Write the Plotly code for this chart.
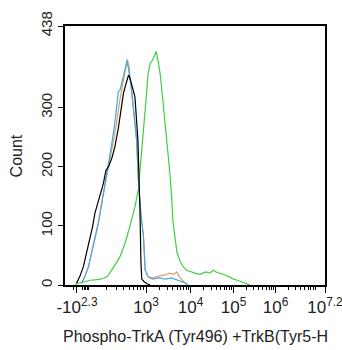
import math
import plotly.graph_objects as go

# x values are in display (biexponential) decade units; y are event counts
black_x = [1.37, 1.45, 1.53, 1.61, 1.69, 1.75, 1.80, 1.88, 1.92, 2.00, 2.06, 2.12, 2.20, 2.27, 2.35,
           2.42, 2.47, 2.53, 2.59, 2.63, 2.70, 2.74, 2.81, 2.84, 2.86, 2.88, 2.90, 2.95, 3.02, 3.10]
black_y = [3, 15, 31, 55, 82, 100, 121, 140, 149, 172, 194, 200, 215, 234, 265,
           300, 324, 340, 355, 348, 330, 318, 245, 189, 120, 40, 10, 6, 2, 0]

blue_x = [1.49, 1.57, 1.65, 1.76, 1.88, 1.96, 2.04, 2.09, 2.15, 2.20, 2.27, 2.35, 2.39, 2.45, 2.50,
          2.55, 2.59, 2.66, 2.78, 2.82, 2.88, 2.94, 2.98, 3.05, 3.15, 3.30, 3.45, 3.60, 3.75, 3.90, 3.99]
blue_y = [3, 15, 31, 65, 104, 138, 172, 194, 215, 240, 275, 327, 330, 345, 362,
          379, 365, 330, 245, 178, 120, 82, 25, 14, 10, 12, 10, 12, 8, 4, 0]

tan_x = [1.49, 1.57, 1.65, 1.76, 1.88, 1.96, 2.04, 2.09, 2.15, 2.22, 2.30, 2.38, 2.45, 2.51, 2.56,
         2.60, 2.66, 2.78, 2.82, 2.88, 2.94, 2.98, 3.05, 3.15, 3.30, 3.45, 3.55, 3.65, 3.72, 3.80, 3.90, 3.99]
tan_y = [3, 15, 31, 65, 104, 138, 172, 194, 212, 238, 270, 310, 340, 365, 382,
         370, 330, 245, 178, 120, 82, 25, 14, 12, 15, 17, 20, 18, 22, 12, 5, 0]

green_x = [1.33, 1.40, 1.53, 1.69, 1.85, 2.00, 2.10, 2.20, 2.30, 2.39, 2.51, 2.62, 2.74, 2.82, 2.86,
           2.90, 2.96, 3.02, 3.05, 3.10, 3.15, 3.20, 3.24, 3.28, 3.33, 3.41, 3.49, 3.56, 3.60, 3.63,
           3.68, 3.73, 3.80, 3.87, 3.95, 4.05, 4.15, 4.27, 4.40, 4.50, 4.57, 4.65, 4.75, 4.85, 4.95,
           5.05, 5.14, 5.25, 5.35, 5.44]
green_y = [0, 3, 5, 8, 9, 11, 15, 25, 37, 48, 71, 99, 132, 161, 194,
           217, 273, 330, 358, 375, 380, 390, 395, 380, 358, 301, 245, 189, 150, 110,
           80, 54, 40, 31, 25, 22, 20, 18, 22, 20, 25, 22, 20, 17, 14,
           10, 8, 5, 2, 0]

x_tick_vals = [1.38, 3.0, 4.045, 5.054, 6.04, 7.2]
x_tick_text = ["-10<sup>2.3</sup>", "10<sup>3</sup>", "10<sup>4</sup>", "10<sup>5</sup>",
               "10<sup>6</sup>", "10<sup>7.2</sup>"]
y_tick_vals = [0, 100, 200, 300, 438]
y_tick_text = ["0", "100", "200", "300", "438"]

x_title = "Phospho-TrkA (Tyr496) +TrkB(Tyr5-H"
y_title = "Count"

# minor ticks (log positions inside each decade)
minor = [1.287, 1.52, 1.56, 1.59, 1.63, 1.66]
dec100 = 1.685
for k in range(2, 10):
    minor.append(dec100 + (3.0 - dec100) * math.log10(k))
decs = [3.0, 4.045, 5.054, 6.04, 7.02]
for a, b in zip(decs[:-1], decs[1:]):
    for k in range(2, 10):
        minor.append(a + (b - a) * math.log10(k))

fig = go.Figure()
series = [
    (green_x, green_y, "#3fd03f"),
    (tan_x, tan_y, "#d9a06c"),
    (blue_x, blue_y, "#4aa6dc"),
    (black_x, black_y, "#000000"),
]
for xs, ys, c in series:
    fig.add_trace(go.Scatter(x=xs, y=ys, mode="lines", line=dict(color=c, width=1.2),
                             showlegend=False, hoverinfo="skip"))

font_family = "Liberation Sans, Arial, sans-serif"
fig.update_layout(
    width=342, height=350,
    margin=dict(l=65, r=17, t=26, b=65),
    paper_bgcolor="white", plot_bgcolor="white",
    font=dict(family=font_family, color="#222222"),
    xaxis=dict(
        range=[1.099, 7.2], showgrid=False, zeroline=False, automargin=False,
        showline=True, linecolor="#000000", linewidth=1.5, mirror=True,
        tickmode="array", tickvals=x_tick_vals, ticktext=x_tick_text,
        ticks="outside", ticklen=6, tickwidth=1.2, tickcolor="#000000",
        tickfont=dict(size=17, color="#222222"), ticklabeloverflow="allow",
        minor=dict(tickmode="array", tickvals=minor, ticks="outside", ticklen=3,
                   tickwidth=1, tickcolor="#000000", showgrid=False),
    ),
    yaxis=dict(
        range=[0, 438], showgrid=False, zeroline=False, automargin=False,
        showline=True, linecolor="#000000", linewidth=1.5, mirror=True,
        tickmode="array", tickvals=y_tick_vals, ticktext=y_tick_text,
        ticks="outside", ticklen=5, tickwidth=1.2, tickcolor="#000000",
        tickangle=-90, tickfont=dict(size=15, color="#222222"),
    ),
    annotations=[
        dict(text=x_title, xref="paper", yref="paper", x=0.5, y=-0.2,
             xanchor="center", yanchor="middle", showarrow=False,
             font=dict(size=16, color="#222222")),
        dict(text=y_title, xref="paper", yref="paper", x=-0.185, y=0.5,
             xanchor="center", yanchor="middle", textangle=-90, showarrow=False,
             font=dict(size=16, color="#222222")),
    ],
)
fig.write_html("out.html")
